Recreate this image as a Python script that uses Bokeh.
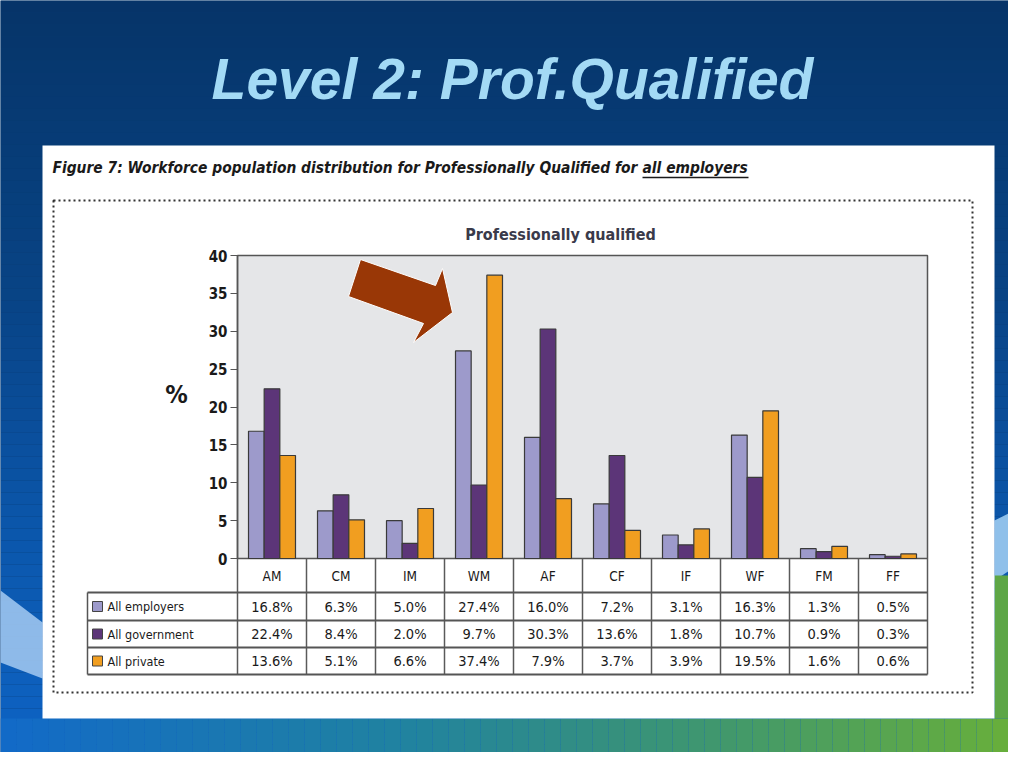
import numpy as np
from bokeh.plotting import figure
from bokeh.models import Range1d, LinearAxis, FixedTicker
from bokeh.core.properties import value
from bokeh.embed import file_html
from bokeh.resources import INLINE

# ---------------- data ----------------
categories = ["AM", "CM", "IM", "WM", "AF", "CF", "IF", "WF", "FM", "FF"]
series_names = ["All employers", "All government", "All private"]
all_employers = [16.8, 6.3, 5.0, 27.4, 16.0, 7.2, 3.1, 16.3, 1.3, 0.5]
all_government = [22.4, 8.4, 2.0, 9.7, 30.3, 13.6, 1.8, 10.7, 0.9, 0.3]
all_private = [13.6, 5.1, 6.6, 37.4, 7.9, 3.7, 3.9, 19.5, 1.6, 0.6]
y_ticks = [0, 5, 10, 15, 20, 25, 30, 35, 40]

slide_title = "Level 2: Prof.Qualified"
caption_main = "Figure 7: Workforce population distribution for Professionally Qualified for "
caption_link = "all employers"
chart_title = "Professionally qualified"
y_label = "%"

# ---------------- layout / style ----------------
W, H = 1008, 752
PX0, PY0 = 0, 0
L, R, T, B = 237, 927, 255, 558      # plot area in page pixels
YMAX = 40
series_values = [all_employers, all_government, all_private]
series_colors = ["#9d9acb", "#5c3578", "#f19e20"]
FONT = "DejaVu Sans Condensed"

p = figure(width=W, height=H, x_range=Range1d(PX0, PX0 + W), y_range=Range1d(PY0 + H, PY0),
           output_backend="svg", toolbar_location=None, min_border=0,
           x_axis_location=None, y_axis_location=None)
p.grid.visible = False
p.outline_line_color = None
p.background_fill_color = "#083a70"
p.border_fill_color = "#083a70"

ncat = len(categories)
ux = (R - L) / ncat
uy = (B - T) / YMAX
p.extra_x_ranges = {"cat": Range1d((PX0 - L) / ux, (PX0 + W - L) / ux)}
p.extra_y_ranges = {"val": Range1d(-(PY0 + H - B) / uy, YMAX + (T - PY0) / uy)}


def lerp_color(stops, t):
    for (t0, c0), (t1, c1) in zip(stops[:-1], stops[1:]):
        if t0 <= t <= t1:
            f = (t - t0) / (t1 - t0) if t1 > t0 else 0
            c = [int(round(a + (b - a) * f)) for a, b in zip(c0, c1)]
            return "#%02x%02x%02x" % tuple(c)
    c = stops[-1][1]
    return "#%02x%02x%02x" % tuple(c)


# background: vertical gradient
vstops = [(0, (6, 52, 104)), (300, (8, 68, 134)), (520, (11, 86, 170)), (768, (14, 100, 198))]
n = 64
ys = np.linspace(0, 768, n + 1)
p.quad(left=[0] * n, right=[1024] * n, top=list(ys[:-1]), bottom=list(ys[1:]),
       fill_color=[lerp_color(vstops, (a + b) / 2) for a, b in zip(ys[:-1], ys[1:])], line_color=None)

# left light wave
p.patch([0, 42, 42, 0], [590, 622, 678, 662], fill_color="#9cc4ee", line_color=None, fill_alpha=0.9)
# right side lower region
hst = [(0, (18, 106, 200)), (400, (32, 130, 160)), (700, (62, 150, 112)), (1024, (106, 176, 56))]
p.patch([994, 1024, 1024, 994], [520, 505, 560, 580], fill_color="#8fc0ea", line_color=None)
p.quad(left=[994], right=[1024], top=[575], bottom=[718], fill_color="#5da646", line_color=None)
# bottom strip horizontal gradient
nx = 64
xs = np.linspace(0, 1024, nx + 1)
p.quad(left=list(xs[:-1]), right=list(xs[1:]), top=[718] * nx, bottom=[768] * nx,
       fill_color=[lerp_color(hst, (a + b) / 2) for a, b in zip(xs[:-1], xs[1:])], line_color=None)

# slide title
p.text(x=[512], y=[78], text=[slide_title], text_font=value("Liberation Sans"), text_font_style="bold italic",
       text_font_size="57px", text_color="#a3daf5", text_align="center", text_baseline="middle")

# white panel and dotted frame
p.quad(left=[42], right=[994], top=[145], bottom=[718], fill_color="white", line_color=None)
p.quad(left=[53], right=[972], top=[200], bottom=[692], fill_color=None, line_color="#333333",
       line_width=2, line_dash="2 3")

# caption
p.text(x=[52], y=[167], text=[caption_main], text_font=value(FONT), text_font_style="bold italic",
       text_font_size="15.4px", text_color="#1a1a1a", text_align="left", text_baseline="middle")
p.text(x=[642], y=[167], text=[caption_link], text_font=value(FONT), text_font_style="bold italic",
       text_font_size="15.4px", text_color="#1a1a1a", text_align="left", text_baseline="middle")
p.segment(x0=[642], y0=[177], x1=[748], y1=[177], line_color="#1a1a1a", line_width=1.5)

# chart title and y label
p.text(x=[560], y=[234], text=[chart_title], text_font=value(FONT), text_font_style="bold",
       text_font_size="16px", text_color="#3a3a4a", text_align="center", text_baseline="middle")
p.text(x=[176], y=[394], text=[y_label], text_font=value(FONT), text_font_style="bold",
       text_font_size="25px", text_color="#1a1a1a", text_align="center", text_baseline="middle")

# plot area
p.quad(left=[0], right=[ncat], bottom=[0], top=[YMAX], x_range_name="cat", y_range_name="val",
       fill_color="#e5e6e8", line_color="#555555", line_width=1.5)

# bars
bw = 0.227
for j, (vals, col) in enumerate(zip(series_values, series_colors)):
    xs_b = [i + 0.5 + (j - 1) * bw for i in range(ncat)]
    p.vbar(x=xs_b, top=vals, bottom=0, width=bw, x_range_name="cat", y_range_name="val",
           fill_color=col, line_color="#3a3a3a", line_width=1.2)

# arrow
p.patch([360, 435, 442, 452, 413, 423, 348], [259, 285, 268, 312, 342, 323, 296],
        fill_color="#993706", line_color="white", line_width=1)

# y axis
yax = LinearAxis(y_range_name="val", fixed_location=L, ticker=FixedTicker(ticks=y_ticks),
                 bounds=(0, YMAX),
                 axis_line_color="#555555", axis_line_width=1.5,
                 major_tick_line_color="#555555", major_tick_out=7, major_tick_in=0,
                 minor_tick_line_color=None, major_label_text_font=FONT,
                 major_label_text_font_style="bold", major_label_text_font_size="15px",
                 major_label_text_color="#1a1a1a", major_label_standoff=3)
p.add_layout(yax, "left")

# data table
row_lines = [592, 620, 647, 674]
row_centers = [(a + b) / 2 for a, b in zip(row_lines[:-1], row_lines[1:])]
p.segment(x0=list(range(ncat + 1)), x1=list(range(ncat + 1)), y0=[B] * (ncat + 1), y1=[row_lines[-1]] * (ncat + 1),
          x_range_name="cat", line_color="#5a5a5a", line_width=1.5)
p.segment(x0=[87] * len(row_lines), x1=[R] * len(row_lines), y0=row_lines, y1=row_lines,
          line_color="#555555", line_width=2.2)
p.segment(x0=[87], x1=[87], y0=[row_lines[0]], y1=[row_lines[-1]], line_color="#555555", line_width=1.5)

p.text(x=[i + 0.5 for i in range(ncat)], y=[575] * ncat, text=categories, x_range_name="cat",
       text_font=value(FONT), text_font_size="13.5px", text_color="#1a1a1a",
       text_align="center", text_baseline="middle")
for j, (name, vals, col) in enumerate(zip(series_names, series_values, series_colors)):
    yc = row_centers[j]
    p.rect(x=[97], y=[yc], width=10, height=10, fill_color=col, line_color="#444444", line_width=1)
    p.text(x=[107], y=[yc], text=[name], text_font=value(FONT), text_font_size="12.5px",
           text_color="#1a1a1a", text_align="left", text_baseline="middle")
    p.text(x=[i + 0.5 for i in range(ncat)], y=[yc] * ncat, text=["%.1f%%" % v for v in vals],
           x_range_name="cat", text_font=value(FONT), text_font_size="14.5px", text_color="#1a1a1a",
           text_align="center", text_baseline="middle")

open("out.html", "w").write(file_html(p, INLINE))
